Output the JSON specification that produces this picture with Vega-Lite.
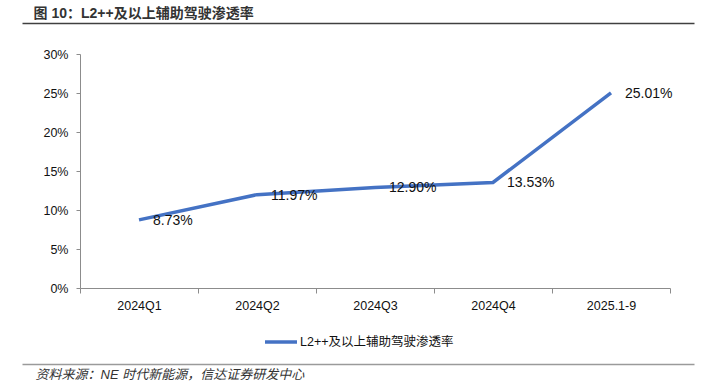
{
  "$schema": "https://vega.github.io/schema/vega-lite/v6.json",
  "width": 590,
  "height": 234,
  "autosize": {"type": "none"},
  "padding": {"left": 80, "top": 54, "right": 40, "bottom": 102},
  "background": "white",
  "config": {
    "font": "Liberation Sans, Noto Sans CJK SC, sans-serif",
    "view": {"stroke": null}
  },
  "resolve": {"scale": {"x": "independent"}, "axis": {"x": "independent"}},
  "layer": [
    {
      "data": {"values": [{"d": 0}]},
      "mark": {"type": "point", "opacity": 0},
      "encoding": {
        "x": {
          "field": "d", "type": "quantitative",
          "scale": {"domain": [0, 1], "range": [-58, 614]},
          "axis": {
            "orient": "top", "offset": 31, "labels": false, "ticks": false, "grid": false,
            "domainColor": "#404040", "domainWidth": 1.5,
            "title": "图 10：L2++及以上辅助驾驶渗透率",
            "titleFont": "Liberation Sans, Noto Sans CJK SC, sans-serif",
            "titleFontSize": 14, "titleFontWeight": "bold", "titleColor": "#333333",
            "titleAlign": "left", "titleX": -47, "titlePadding": 3
          }
        }
      }
    },
    {
      "data": {"values": [{"d": 0}]},
      "mark": {"type": "point", "opacity": 0},
      "encoding": {
        "x": {
          "field": "d", "type": "quantitative",
          "scale": {"domain": [0, 1], "range": [-58, 614]},
          "axis": {
            "orient": "bottom", "offset": 76, "labels": false, "ticks": false, "grid": false,
            "domainColor": "#9a9a9a", "domainWidth": 1.5,
            "title": "资料来源：NE 时代新能源，信达证券研发中心",
            "titleFont": "Liberation Sans, Noto Sans CJK SC, sans-serif",
            "titleFontSize": 13, "titleFontWeight": "normal", "titleFontStyle": "italic",
            "titleColor": "#333333", "titleAlign": "left", "titleX": -45, "titlePadding": 4
          }
        }
      }
    },
    {
      "data": {"name": "main", "values": [
        {"period": "2024Q1", "rate": 0.0873, "series": "L2++及以上辅助驾驶渗透率"},
        {"period": "2024Q2", "rate": 0.1197, "series": "L2++及以上辅助驾驶渗透率"},
        {"period": "2024Q3", "rate": 0.1290, "series": "L2++及以上辅助驾驶渗透率"},
        {"period": "2024Q4", "rate": 0.1353, "series": "L2++及以上辅助驾驶渗透率"},
        {"period": "2025.1-9", "rate": 0.2501, "series": "L2++及以上辅助驾驶渗透率"}
      ]},
      "encoding": {
        "x": {
          "field": "period", "type": "nominal", "sort": null,
          "scale": {"type": "band", "paddingInner": 0, "paddingOuter": 0},
          "axis": {
            "title": null, "labelAngle": 0, "tickBand": "extent",
            "domainColor": "#8c8c8c", "tickColor": "#8c8c8c", "tickSize": 5,
            "labelFontSize": 12.5, "labelColor": "#111111", "labelPadding": 6, "grid": false
          }
        },
        "y": {
          "field": "rate", "type": "quantitative",
          "scale": {"domain": [0, 0.3], "nice": false},
          "axis": {
            "title": null, "values": [0, 0.05, 0.1, 0.15, 0.2, 0.25, 0.3], "format": ".0%",
            "grid": false, "domainColor": "#8c8c8c", "tickColor": "#8c8c8c", "tickSize": 4,
            "labelFontSize": 12.5, "labelColor": "#111111", "labelPadding": 8
          }
        }
      },
      "layer": [
        {
          "mark": {"type": "line", "strokeWidth": 3.5},
          "encoding": {
            "color": {
              "field": "series", "type": "nominal",
              "scale": {"range": ["#4472C4"]},
              "legend": {
                "title": null, "orient": "none", "legendX": 183, "legendY": 270,
                "symbolType": "stroke", "symbolSize": 1024, "symbolStrokeWidth": 3.5,
                "labelFontSize": 12.5, "labelColor": "#111111", "labelOffset": 1,
                "labelFont": "Liberation Sans, Noto Sans CJK SC, sans-serif"
              }
            }
          }
        },
        {
          "mark": {"type": "text", "align": "left", "baseline": "middle", "dx": 14, "dy": 1, "fontSize": 14, "color": "#111111"},
          "encoding": {
            "text": {"field": "rate", "type": "quantitative", "format": ".2%"}
          }
        }
      ]
    }
  ]
}
